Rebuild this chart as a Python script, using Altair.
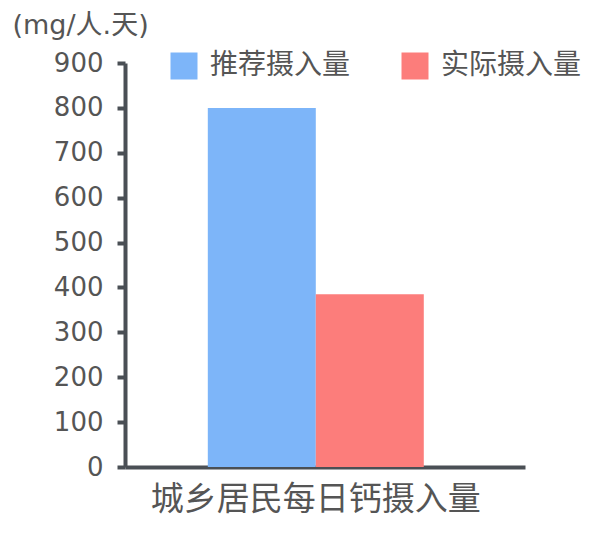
import pandas as pd
import altair as alt

# data
categories = ["城乡居民每日钙摄入量"]
series = ["推荐摄入量", "实际摄入量"]
values = [800, 385]
colors = ["#7db5f9", "#fc7d7b"]

df = pd.DataFrame({
    "group": categories * len(series),
    "series": series,
    "value": values,
})

font = "DejaVu Sans, Noto Sans CJK SC"
cjk = "Noto Sans CJK SC"
axis_color = "#4a4f55"
text_color = "#555555"

chart = alt.Chart(df).mark_bar().encode(
    alt.X("group:N", title=None,
          scale=alt.Scale(paddingInner=0, paddingOuter=0.426, align=0.45),
          axis=alt.Axis(labelAngle=0, labelFontSize=33, labelColor=text_color,
                        labelFont=cjk, labelPadding=16, ticks=False,
                        domainColor=axis_color, domainWidth=4, labelLimit=500)),
    alt.XOffset("series:N", sort=series,
                scale=alt.Scale(paddingInner=0, paddingOuter=0)),
    alt.Y("value:Q", title="(mg/人.天)",
          scale=alt.Scale(domain=[0, 900]),
          axis=alt.Axis(values=list(range(0, 901, 100)), grid=False,
                        tickSize=8, tickWidth=4, tickColor=axis_color,
                        domainColor=axis_color, domainWidth=4,
                        labelFontSize=26, labelColor=text_color, labelFont=font,
                        labelPadding=14,
                        titleAngle=0, titleX=-113, titleY=-38, titleAlign="left",
                        titleBaseline="middle", titleFontSize=27,
                        titleFontWeight="normal", titleColor=text_color,
                        titleFont=font)),
    alt.Color("series:N", sort=series, title=None,
              scale=alt.Scale(domain=series, range=colors),
              legend=alt.Legend(orient="none", legendX=45, legendY=-11,
                                direction="horizontal", symbolType="square",
                                symbolSize=729, symbolStrokeWidth=0,
                                labelFontSize=28, labelColor=text_color,
                                labelFont=cjk, labelOffset=12,
                                columnPadding=50, labelLimit=300)),
).properties(
    width=400,
    height=404,
    padding={"left": 117, "top": 55, "right": 67, "bottom": 64},
    autosize=alt.AutoSizeParams(type="none"),
).configure_view(stroke=None)

chart.save("out.html", embed_options={"renderer": "svg", "actions": False})
